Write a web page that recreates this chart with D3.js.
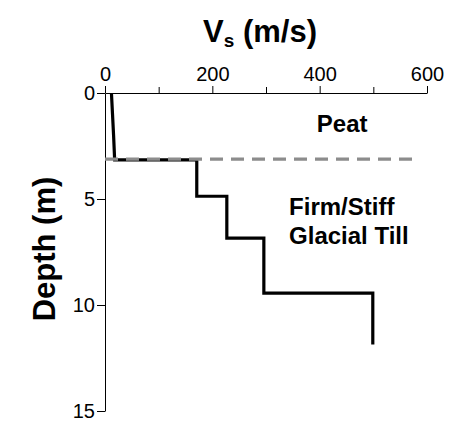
<!DOCTYPE html>
<html>
<head>
<meta charset="utf-8">
<script src="https://cdn.jsdelivr.net/npm/d3@7"></script>
<style>
html, body { margin: 0; padding: 0; background: #fff; }
svg { display: block; font-family: "Liberation Sans", Arial, sans-serif; }
</style>
</head>
<body>
<svg id="chart" width="454" height="427"></svg>
<script>
// Data
const profileDepth = [0, 1, 2, 3.15, 3.15, 4.87, 4.87, 6.85, 6.85, 9.44, 9.44, 11.86];
const profileVs    = [12, 14, 16, 18, 171, 171, 227, 227, 296, 296, 499, 499];
const boundaryDepth = 3.12;
const boundaryVs = [0, 581];
const xTicks = [0, 200, 400, 600];
const xMinorTicks = [100, 300, 500];
const yTicks = [0, 5, 10, 15];
const layerLabels = [
  { lines: ["Peat"], vs: 442, depth: 1.82, anchor: "middle" },
  { lines: ["Firm/Stiff", "Glacial Till"], vs: 343, depth: 5.77, anchor: "start" }
];

const svg = d3.select("#chart");
const x = d3.scaleLinear().domain([0, 600]).range([105, 427]);
const y = d3.scaleLinear().domain([0, 15]).range([93, 411]);

// top axis
const xAxis = svg.append("g").attr("transform", `translate(0,${y(0)})`)
  .call(d3.axisTop(x).tickValues(xTicks).tickSize(7).tickPadding(5).tickSizeOuter(0));
svg.append("g").attr("transform", `translate(0,${y(0)})`)
  .call(d3.axisTop(x).tickValues(xMinorTicks).tickSize(6).tickFormat("").tickSizeOuter(0))
  .select(".domain").remove();

// left axis
const yAxis = svg.append("g").attr("transform", `translate(${x(0)},0)`)
  .call(d3.axisLeft(y).tickValues(yTicks).tickSize(8).tickPadding(2).tickSizeOuter(0));

svg.selectAll(".tick text").attr("font-size", 20).attr("fill", "#000")
  .attr("font-family", "'Liberation Sans', Arial, sans-serif");
svg.selectAll(".domain, .tick line").attr("stroke", "#000").attr("stroke-width", 1);

// profile
const pts = profileDepth.map((d, i) => [profileVs[i], d]);
svg.append("path")
  .attr("d", d3.line().x(p => x(p[0])).y(p => y(p[1]))(pts))
  .attr("fill", "none").attr("stroke", "#000").attr("stroke-width", 3.2)
  .attr("stroke-linejoin", "miter").attr("stroke-linecap", "butt");

// boundary dashed line
svg.append("line")
  .attr("x1", x(boundaryVs[0])).attr("x2", x(boundaryVs[1]))
  .attr("y1", y(boundaryDepth)).attr("y2", y(boundaryDepth))
  .attr("stroke", "#8c8c8c").attr("stroke-width", 3.2)
  .attr("stroke-dasharray", "13,8");

// layer labels
layerLabels.forEach(l => {
  const t = svg.append("text")
    .attr("x", x(l.vs)).attr("y", y(l.depth))
    .attr("text-anchor", l.anchor)
    .attr("font-size", 24).attr("font-weight", "bold").attr("fill", "#000");
  l.lines.forEach((s, i) => {
    t.append("tspan").attr("x", x(l.vs)).attr("dy", i === 0 ? 0 : 29).text(s);
  });
});

// title
const title = svg.append("text").attr("x", 260).attr("y", 42)
  .attr("text-anchor", "middle").attr("font-size", 31).attr("font-weight", "bold");
title.append("tspan").text("V");
title.append("tspan").attr("font-size", 19).attr("dy", 5).text("s");
title.append("tspan").attr("dy", -5).text(" (m/s)");

// y label
svg.append("text")
  .attr("transform", `translate(55,249) rotate(-90)`)
  .attr("text-anchor", "middle").attr("font-size", 31).attr("font-weight", "bold")
  .text("Depth (m)");
</script>
</body>
</html>
